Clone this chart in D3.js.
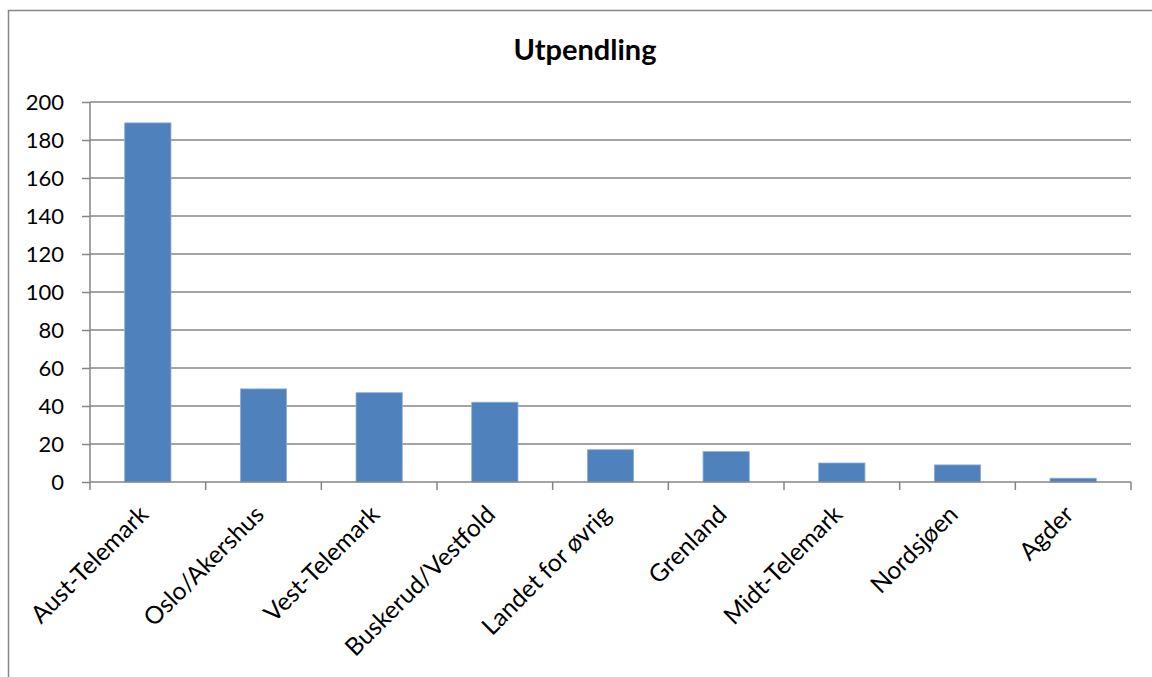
<!DOCTYPE html>
<html>
<head>
<meta charset="utf-8">
<script src="https://cdn.jsdelivr.net/npm/d3@7"></script>
<style>
  body { margin: 0; background: #fff; }
  svg { display: block; font-family: Lato, "Open Sans", sans-serif; }
</style>
</head>
<body>
<div id="chart"></div>
<script>
const regions = ["Aust-Telemark", "Oslo/Akershus", "Vest-Telemark", "Buskerud/Vestfold",
  "Landet for øvrig", "Grenland", "Midt-Telemark", "Nordsjøen", "Agder"];
const pendlere = [189, 49, 47, 42, 17, 16, 10, 9, 2];
const yTicks = [0, 20, 40, 60, 80, 100, 120, 140, 160, 180, 200];
const title = "Utpendling";

let width = 1152, height = 677;
let margin = ({top: 102, right: 21, bottom: 195, left: 90});

const svg = d3.select("#chart").append("svg")
  .attr("width", width)
  .attr("height", height);

// outer chart border (cut off right and bottom like in the screenshot)
svg.append("rect")
  .attr("x", 8.5).attr("y", 10.5)
  .attr("width", width + 10).attr("height", height + 10)
  .attr("fill", "none")
  .attr("stroke", "#868686")
  .attr("stroke-width", 1.5);

let x = d3.scaleBand()
  .domain(regions)
  .range([margin.left, width - margin.right])
  .paddingInner(0.6)
  .paddingOuter(0.3);

let y = d3.scaleLinear()
  .domain([0, 200])
  .range([height - margin.bottom, margin.top]);

// gridlines
svg.append("g")
  .selectAll("line")
  .data(yTicks.filter(d => d > 0))
  .join("line")
  .attr("x1", margin.left).attr("x2", width - margin.right)
  .attr("y1", d => y(d)).attr("y2", d => y(d))
  .attr("stroke", "#868686")
  .attr("stroke-width", 1.5);

// bars
svg.append("g")
  .selectAll("rect")
  .data(pendlere)
  .join("rect")
  .attr("x", (d, i) => x(regions[i]))
  .attr("width", x.bandwidth())
  .attr("y", d => y(d))
  .attr("height", d => y(0) - y(d))
  .attr("fill", "#4f81bd")
  .attr("stroke", "#8eb0da")
  .attr("stroke-width", 0.8);

// y axis
svg.append("g")
  .attr("transform", `translate(${margin.left},0)`)
  .call(d3.axisLeft(y).tickValues(yTicks).tickSize(8).tickPadding(18))
  .call(g => g.selectAll("path, line").attr("stroke", "#868686").attr("stroke-width", 1.5))
  .call(g => g.select(".domain").attr("d", `M0,${y(0)}V${y(200)}`))
  .call(g => g.selectAll("text")
    .attr("fill", "#000")
    .attr("font-size", 22)
    .attr("font-family", "Lato, sans-serif"));

// x axis line + ticks at category boundaries
let xg = svg.append("g")
  .attr("transform", `translate(0,${y(0)})`);
xg.append("line")
  .attr("x1", margin.left).attr("x2", width - margin.right)
  .attr("stroke", "#868686").attr("stroke-width", 1.5);
xg.selectAll(".tick")
  .data(d3.range(regions.length + 1))
  .join("line")
  .attr("class", "tick")
  .attr("x1", i => margin.left + i * x.step())
  .attr("x2", i => margin.left + i * x.step())
  .attr("y1", 0).attr("y2", 8)
  .attr("stroke", "#868686").attr("stroke-width", 1.5);

// rotated category labels
xg.selectAll("text")
  .data(regions)
  .join("text")
  .attr("transform", d => `translate(${x(d) + x.bandwidth() / 2 + 2},34) rotate(-45)`)
  .attr("text-anchor", "end")
  .attr("font-size", 24.5)
  .attr("fill", "#000")
  .text(d => d);

// title
svg.append("text")
  .attr("x", 585)
  .attr("y", 60)
  .attr("text-anchor", "middle")
  .attr("font-size", 29)
  .attr("font-weight", "bold")
  .attr("fill", "#000")
  .text(title);
</script>
</body>
</html>
